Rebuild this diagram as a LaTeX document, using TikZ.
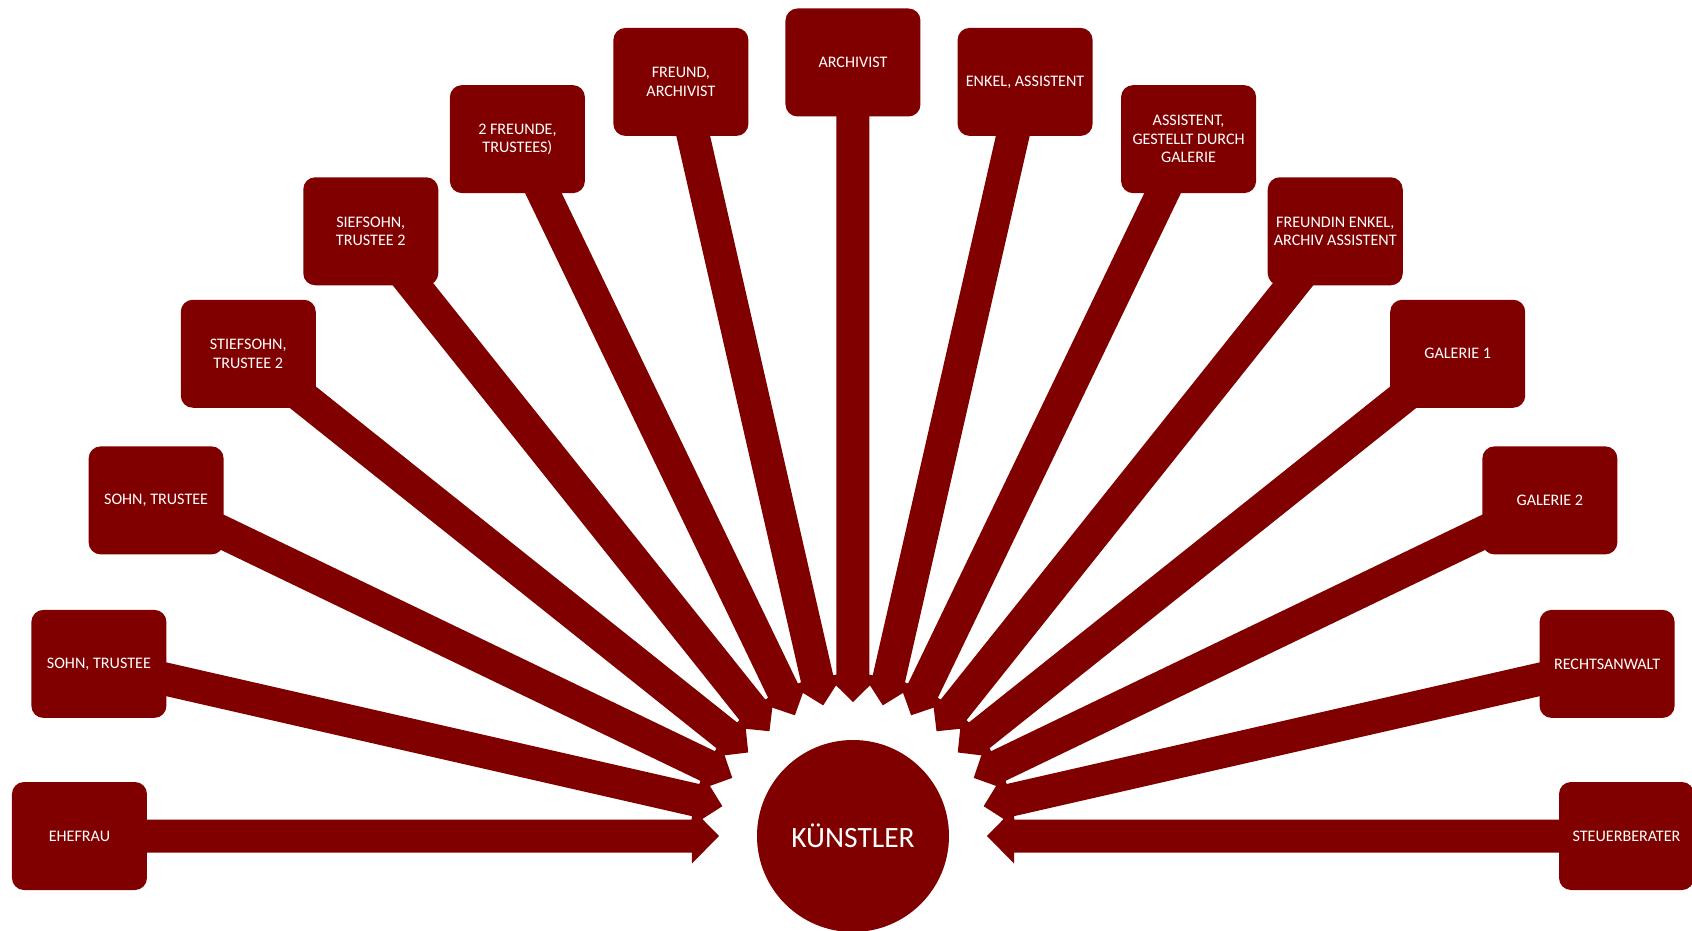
\documentclass[tikz,border=0pt]{standalone}
\usepackage{fontspec}
\setmainfont{Carlito}
\usetikzlibrary{calc,backgrounds}
\definecolor{maroonred}{HTML}{800000}
\begin{document}
\begin{tikzpicture}[x=1pt,y=1pt,
  box/.style={fill=maroonred, rounded corners=12pt, minimum width=135pt, minimum height=108pt,
    inner sep=0pt, text=white, align=center, font=\fontsize{16.1}{18.3}\selectfont},
  arr/.style={fill=maroonred},
  hub/.style={circle, fill=maroonred, minimum size=192pt, inner sep=0pt, text=white,
    font=\fontsize{29.5}{34}\selectfont}]
\useasboundingbox (-853,-94) rectangle (839,836);
\node[hub] (c) at (0,0) {KÜNSTLER};
\foreach \k/\t in {0/EHEFRAU, 1/{SOHN, TRUSTEE}, 2/{SOHN, TRUSTEE}, 3/{STIEFSOHN,\\TRUSTEE 2},
  4/{SIEFSOHN,\\TRUSTEE 2}, 5/{2 FREUNDE,\\TRUSTEES)}, 6/{FREUND,\\ARCHIVIST}, 7/ARCHIVIST,
  8/{ENKEL, ASSISTENT}, 9/{ASSISTENT,\\GESTELLT DURCH\\GALERIE}, 10/{FREUNDIN ENKEL,\\ARCHIV ASSISTENT},
  11/GALERIE 1, 12/GALERIE 2, 13/RECHTSANWALT, 14/STEUERBERATER}{
  \node[box] (b\k) at ({180-\k*180/14}:773.5) {\t};
}
\begin{scope}[on background layer]
\foreach \k in {0,...,14}{
  \fill[arr] ($(b\k.center)!16.5pt!-90:(c.center)$)
    -- ($(c.center)!161pt!(b\k.center)!16.5pt!90:(b\k.center)$)
    -- ($(c.center)!161pt!(b\k.center)!27.5pt!90:(b\k.center)$)
    -- ($(c.center)!134pt!(b\k.center)$)
    -- ($(c.center)!161pt!(b\k.center)!27.5pt!-90:(b\k.center)$)
    -- ($(c.center)!161pt!(b\k.center)!16.5pt!-90:(b\k.center)$)
    -- ($(b\k.center)!16.5pt!90:(c.center)$) -- cycle;
}
\end{scope}
\end{tikzpicture}
\end{document}
